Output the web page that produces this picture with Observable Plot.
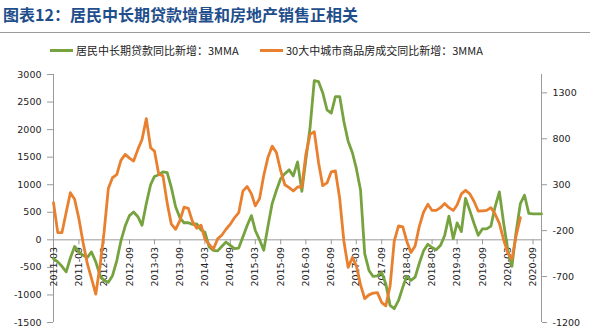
<!DOCTYPE html>
<html><head><meta charset="utf-8">
<script src="https://cdn.jsdelivr.net/npm/d3@7"></script>
<script src="https://cdn.jsdelivr.net/npm/@observablehq/plot@0.6"></script>
<style>
body{margin:0;background:#fff;width:590px;height:335px;overflow:hidden;}
#hdr{position:relative;height:62px;width:590px;font-family:"Noto Sans CJK SC","Noto Sans",sans-serif;}
#title{position:absolute;left:3px;top:2px;font-size:16px;font-weight:bold;color:#1f4e8c;white-space:nowrap;}
#sep{position:absolute;left:0;top:32px;width:590px;height:1px;background:#9a9a9a;}
.lg{position:absolute;top:42px;font-size:11px;color:#222;white-space:nowrap;display:flex;align-items:center;}
.sw{display:inline-block;width:23px;height:3px;margin-right:3px;}
</style></head>
<body>
<div id="hdr">
  <div id="title">图表12：居民中长期贷款增量和房地产销售正相关</div>
  <div id="sep"></div>
  <div class="lg" style="left:50px"><span class="sw" style="background:#76a33f"></span>居民中长期贷款同比新增：3MMA</div>
  <div class="lg" style="left:260px"><span class="sw" style="background:#e8802f"></span>30大中城市商品房成交同比新增：3MMA</div>
</div>
<div id="chart"></div>
<script>
// ---- data ----
const startMonth = "2011-03";
const endMonth = "2020-11";
const seriesNames = ["居民中长期贷款同比新增：3MMA", "30大中城市商品房成交同比新增：3MMA"];
// green: left axis, monthly from 2011-03
const loans = [
-340,-400,-480,-580,-330,-120,-220,-280,-320,-220,
-400,-650,-740,-770,-650,-380,-20,250,440,505,
420,264,660,1000,1150,1180,1233,1220,950,600,
400,310,310,280,290,180,140,-130,-190,-200,
-120,-40,-100,-160,-150,50,260,440,170,0,
-190,250,658,900,1112,1200,1270,1160,1415,880,
1450,2050,2890,2870,2670,2360,2300,2600,2600,2150,
1790,1580,1300,900,-250,-555,-664,-655,-590,-800,
-1190,-1250,-1100,-858,-660,-736,-676,-420,-200,-80,
-140,-180,-100,80,430,20,306,150,750,530,
300,82,200,200,250,600,870,300,-170,-480,
140,658,809,480,470,470,470
];
// orange: right axis, monthly from 2011-03
const sales = [
104,-222,-222,0,213,141,-70,-330,-560,-720,
-891,-580,-220,260,376,409,565,630,590,558,
685,793,1020,702,666,413,400,100,-130,-185,
-90,55,43,-100,-175,-140,-290,-350,-402,-290,
-250,-185,-130,-60,-4,230,280,200,70,150,
400,600,720,650,450,300,268,232,275,275,
630,850,876,540,290,320,440,450,150,-312,
-600,-493,-580,-790,-940,-899,-880,-875,-983,-1018,
-800,-312,-149,-160,-312,-439,-366,-150,0,87,
20,20,50,95,50,20,80,200,239,200,
120,14,15,20,50,-20,-120,-300,-440,-510,
-258,-58
];
const leftDomain = [-1500, 3000];
const rightDomain = [-1200, 1500];
const leftTicks = [-1500,-1000,-500,0,500,1000,1500,2000,2500,3000];
const rightTicks = [-1200,-700,-200,300,800,1300];
const xTickLabels = ["2011-03","2011-09","2012-03","2012-09","2013-03","2013-09","2014-03","2014-09","2015-03","2015-09","2016-03","2016-09","2017-03","2017-09","2018-03","2018-09","2019-03","2019-09","2020-03","2020-09"];
const colors = ["#76a33f", "#e8802f"];

// ---- build ----
const parseM = d3.utcParse("%Y-%m");
const start = parseM(startMonth), end = parseM(endMonth);
const toLeft = v => leftDomain[0] + (v - rightDomain[0]) * (leftDomain[1]-leftDomain[0])/(rightDomain[1]-rightDomain[0]);
const fromLeft = l => rightDomain[0] + (l - leftDomain[0]) * (rightDomain[1]-rightDomain[0])/(leftDomain[1]-leftDomain[0]);
const loanRows = loans.map((v,i)=>({date: d3.utcMonth.offset(start,i), value: v}));
const saleRows = sales.map((v,i)=>({date: d3.utcMonth.offset(start,i), value: toLeft(v)}));

const W = 590, H = 273, mT = 12, mB = 13, mL = 53, mR = 49;
const innerH = H - mT - mB;
const zeroY = mT + (leftDomain[1] - 0)/(leftDomain[1]-leftDomain[0]) * innerH;
const xAxisDy = zeroY - (H - mB);
const axisGray = "#9a9a9a";

const chart = Plot.plot({
  width: W, height: H,
  marginTop: mT, marginBottom: mB, marginLeft: mL, marginRight: mR,
  style: {fontFamily: "'DejaVu Sans', sans-serif", fontSize: "9.5px", color: "#222", background: "#fff"},
  x: {type: "utc", domain: [start, end], axis: null, label: null},
  y: {domain: leftDomain, axis: null, label: null},
  marks: [
    Plot.ruleX([start], {stroke: axisGray}),
    Plot.ruleX([end], {stroke: axisGray}),
    Plot.ruleY([0], {stroke: axisGray}),
    Plot.axisY(leftTicks, {anchor: "left", label: null, tickSize: 6, tickPadding: 6, stroke: axisGray, fill: "#222", tickFormat: d => String(d)}),
    Plot.axisY(rightTicks.map(toLeft), {anchor: "right", label: null, tickSize: 5, tickPadding: 6, stroke: axisGray, fill: "#222", tickFormat: d => String(Math.round(fromLeft(d)))}),
    Plot.axisX(xTickLabels.map(parseM), {anchor: "bottom", label: null, tickFormat: d3.utcFormat("%Y-%m"), tickRotate: -90, tickSize: 5, tickPadding: 2, dy: xAxisDy, stroke: axisGray, fill: "#222"}),
    Plot.lineY(loanRows, {x: "date", y: "value", stroke: colors[0], strokeWidth: 2.8, strokeLinejoin: "round", title: () => seriesNames[0]}),
    Plot.lineY(saleRows, {x: "date", y: "value", stroke: colors[1], strokeWidth: 2.8, strokeLinejoin: "round", title: () => seriesNames[1]})
  ]
});
document.getElementById("chart").appendChild(chart);
</script>
</body></html>
